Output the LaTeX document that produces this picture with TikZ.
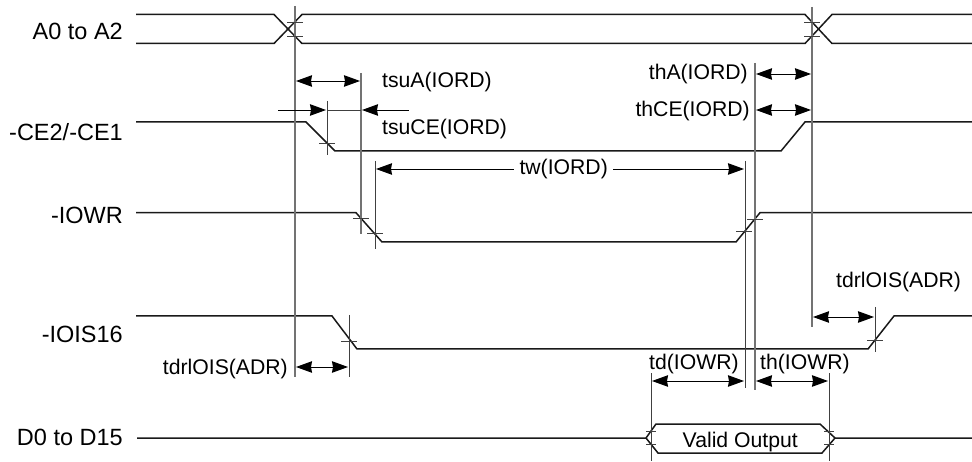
\documentclass[tikz,border=0pt]{standalone}
\usepackage{fontspec}
\setmainfont{Liberation Sans}
\usetikzlibrary{arrows.meta}
\definecolor{sigblack}{rgb}{0.1,0.1,0.1}
\definecolor{guidegray}{rgb}{0.45,0.45,0.45}
\definecolor{guidedark}{rgb}{0.25,0.25,0.25}
\tikzset{
  sigline/.style={line width=1.5pt,sigblack,line join=miter},
  guide/.style={line width=1.2pt,guidegray},
  guidethin/.style={line width=1pt,guidedark},
  crosstick/.style={line width=.9pt,guidedark},
  span/.style={line width=.9pt,black,<->,shorten >=1pt,shorten <=1pt,
    >={Stealth[length=16pt,width=11.5pt,inset=1pt]}},
  lbl/.style={inner sep=0pt,font=\fontsize{21.2}{24}\selectfont,black},
  signame/.style={inner sep=0pt,font=\fontsize{23.5}{26}\selectfont,black,anchor=base east}
}
\begin{document}
\begin{tikzpicture}[x=1pt,y=-1pt]
\useasboundingbox (0,0) rectangle (972,462);
% guide ends
\coordinate (gaddrT) at (295,6);    \coordinate (gaddrB) at (295,377);
\coordinate (gholdT) at (812,7);    \coordinate (gholdB) at (812,327);
\coordinate (gceT)   at (327,101);  \coordinate (gceB)   at (327,155);
\coordinate (gsuT)   at (361,73);   \coordinate (gsuB)   at (361,234);
\coordinate (gwrT)   at (375,161);  \coordinate (gwrB)   at (375,249);
\coordinate (gweT)   at (745,161);  \coordinate (gweB)   at (745,388);
\coordinate (gwhT)   at (755,63);   \coordinate (gwhB)   at (755,390);
\coordinate (gisT)   at (349,315);  \coordinate (gisB)   at (349,377);
\coordinate (gieT)   at (875,307);  \coordinate (gieB)   at (875,352);
\coordinate (gdaT)   at (651,373);  \coordinate (gdaB)   at (651,461);
\coordinate (gdeT)   at (829,373);  \coordinate (gdeB)   at (829,461);
\coordinate (nearL)  at (277,110);  \coordinate (nearR)  at (410,110);
% signal names
\node[signame] (a0) at (123,40) {A0 to A2};
\node[signame] (ce) at (123,141) {-CE2/-CE1};
\node[signame] (wr) at (123,224) {-IOWR};
\node[signame] (is) at (123,343) {-IOIS16};
\node[signame] (d0) at (123,445) {D0 to D15};
% waveforms
\draw[sigline] (136,14.5) -- (274,14.5) -- (302,43.5) -- (805,43.5) -- (832,14.5) -- (972,14.5);
\draw[sigline] (136,43.5) -- (274,43.5) -- (302,14.5) -- (805,14.5) -- (832,43.5) -- (972,43.5);
\draw[sigline] (136,122) -- (306,122) -- (335,151) -- (781,151) -- (805,122) -- (972,122);
\draw[sigline] (136,212.7) -- (356,212.7) -- (382,242) -- (736,242) -- (760,212.7) -- (972,212.7);
\draw[sigline] (136,316) -- (332,316) -- (357,349) -- (868,349) -- (894,316) -- (972,316);
\draw[sigline] (137,438) -- (646,438) -- (656,424) -- (820,424) -- (835,438) -- (972,438);
\draw[sigline] (646,438) -- (658,453) -- (822,453) -- (835,438);
% guides
\draw[guide] (gaddrT) -- (gaddrB);
\draw[guide] (gholdT) -- (gholdB);
\draw[guide] (gwhT) -- (gwhB);
\draw[guide] (gsuT) -- (gsuB);
\draw[guidethin] (gceT) -- (gceB);
\draw[guidethin] (gwrT) -- (gwrB);
\draw[guidethin] (gweT) -- (gweB);
\draw[guidethin] (gisT) -- (gisB);
\draw[guidethin] (gieT) -- (gieB);
\draw[guidethin] (gdaT) -- (gdaB);
\draw[guidethin] (gdeT) -- (gdeB);
% crossing ticks
\foreach \tx/\ty in {295/22.5,295/36,812/22.5,812/36,327/143,361/218,375/233,
  744/231,755/219,349/341,875/340}
  \draw[crosstick] (\tx-8,\ty) -- (\tx+7.5,\ty);
\foreach \tx/\ty in {651/431.5,651/444.5,829/431.5,829/444.5}
  \draw[crosstick] (\tx-5,\ty) -- (\tx+5,\ty);
% timing arrows
\draw[span] (gaddrT |- 0,81) -- (gsuT |- 0,81);
\draw[crosstick] (gceT |- nearL) -- (gsuT |- nearL);
\draw[span,<-] (gceT |- nearL) -- (nearL);
\draw[span,<-] (gsuT |- nearR) -- (nearR);
\draw[span] (gwrT |- 0,169) -- node[lbl,pos=.51,fill=white,inner xsep=5.5pt,inner ysep=1pt] (twlbl) {tw(IORD)} (gweT |- 0,169);
\draw[span] (gwhT |- 0,74) -- (gholdT |- 0,74);
\draw[span] (gwhT |- 0,110) -- (gholdT |- 0,110);
\draw[span] (gaddrT |- 0,367) -- (gisT |- 0,367);
\draw[span] (gholdT |- 0,317) -- (gieT |- 0,317);
\draw[span] (gdaT |- 0,381) -- (gweT |- 0,381);
\draw[span] (gwhT |- 0,381) -- (gdeT |- 0,381);
% timing labels
\node[lbl,anchor=base west] (tsua) at (382,88) {tsuA(IORD)};
\node[lbl,anchor=base west] (tsuce) at (382,135) {tsuCE(IORD)};
\node[lbl,anchor=base east] (tha) at (748,80) {thA(IORD)};
\node[lbl,anchor=base east] (thce) at (750,117) {thCE(IORD)};
\node[lbl,anchor=base east] (tisl) at (288,374) {tdrlOIS(ADR)};
\node[lbl,anchor=base west] (tisr) at (836,288) {tdrlOIS(ADR)};
\node[lbl,anchor=base west] (td) at (649,369) {td(IOWR)};
\node[lbl,anchor=base west] (th) at (760,369) {th(IOWR)};
\node[lbl,anchor=base west] (valid) at (682.5,447) {Valid Output};
\end{tikzpicture}
\end{document}
